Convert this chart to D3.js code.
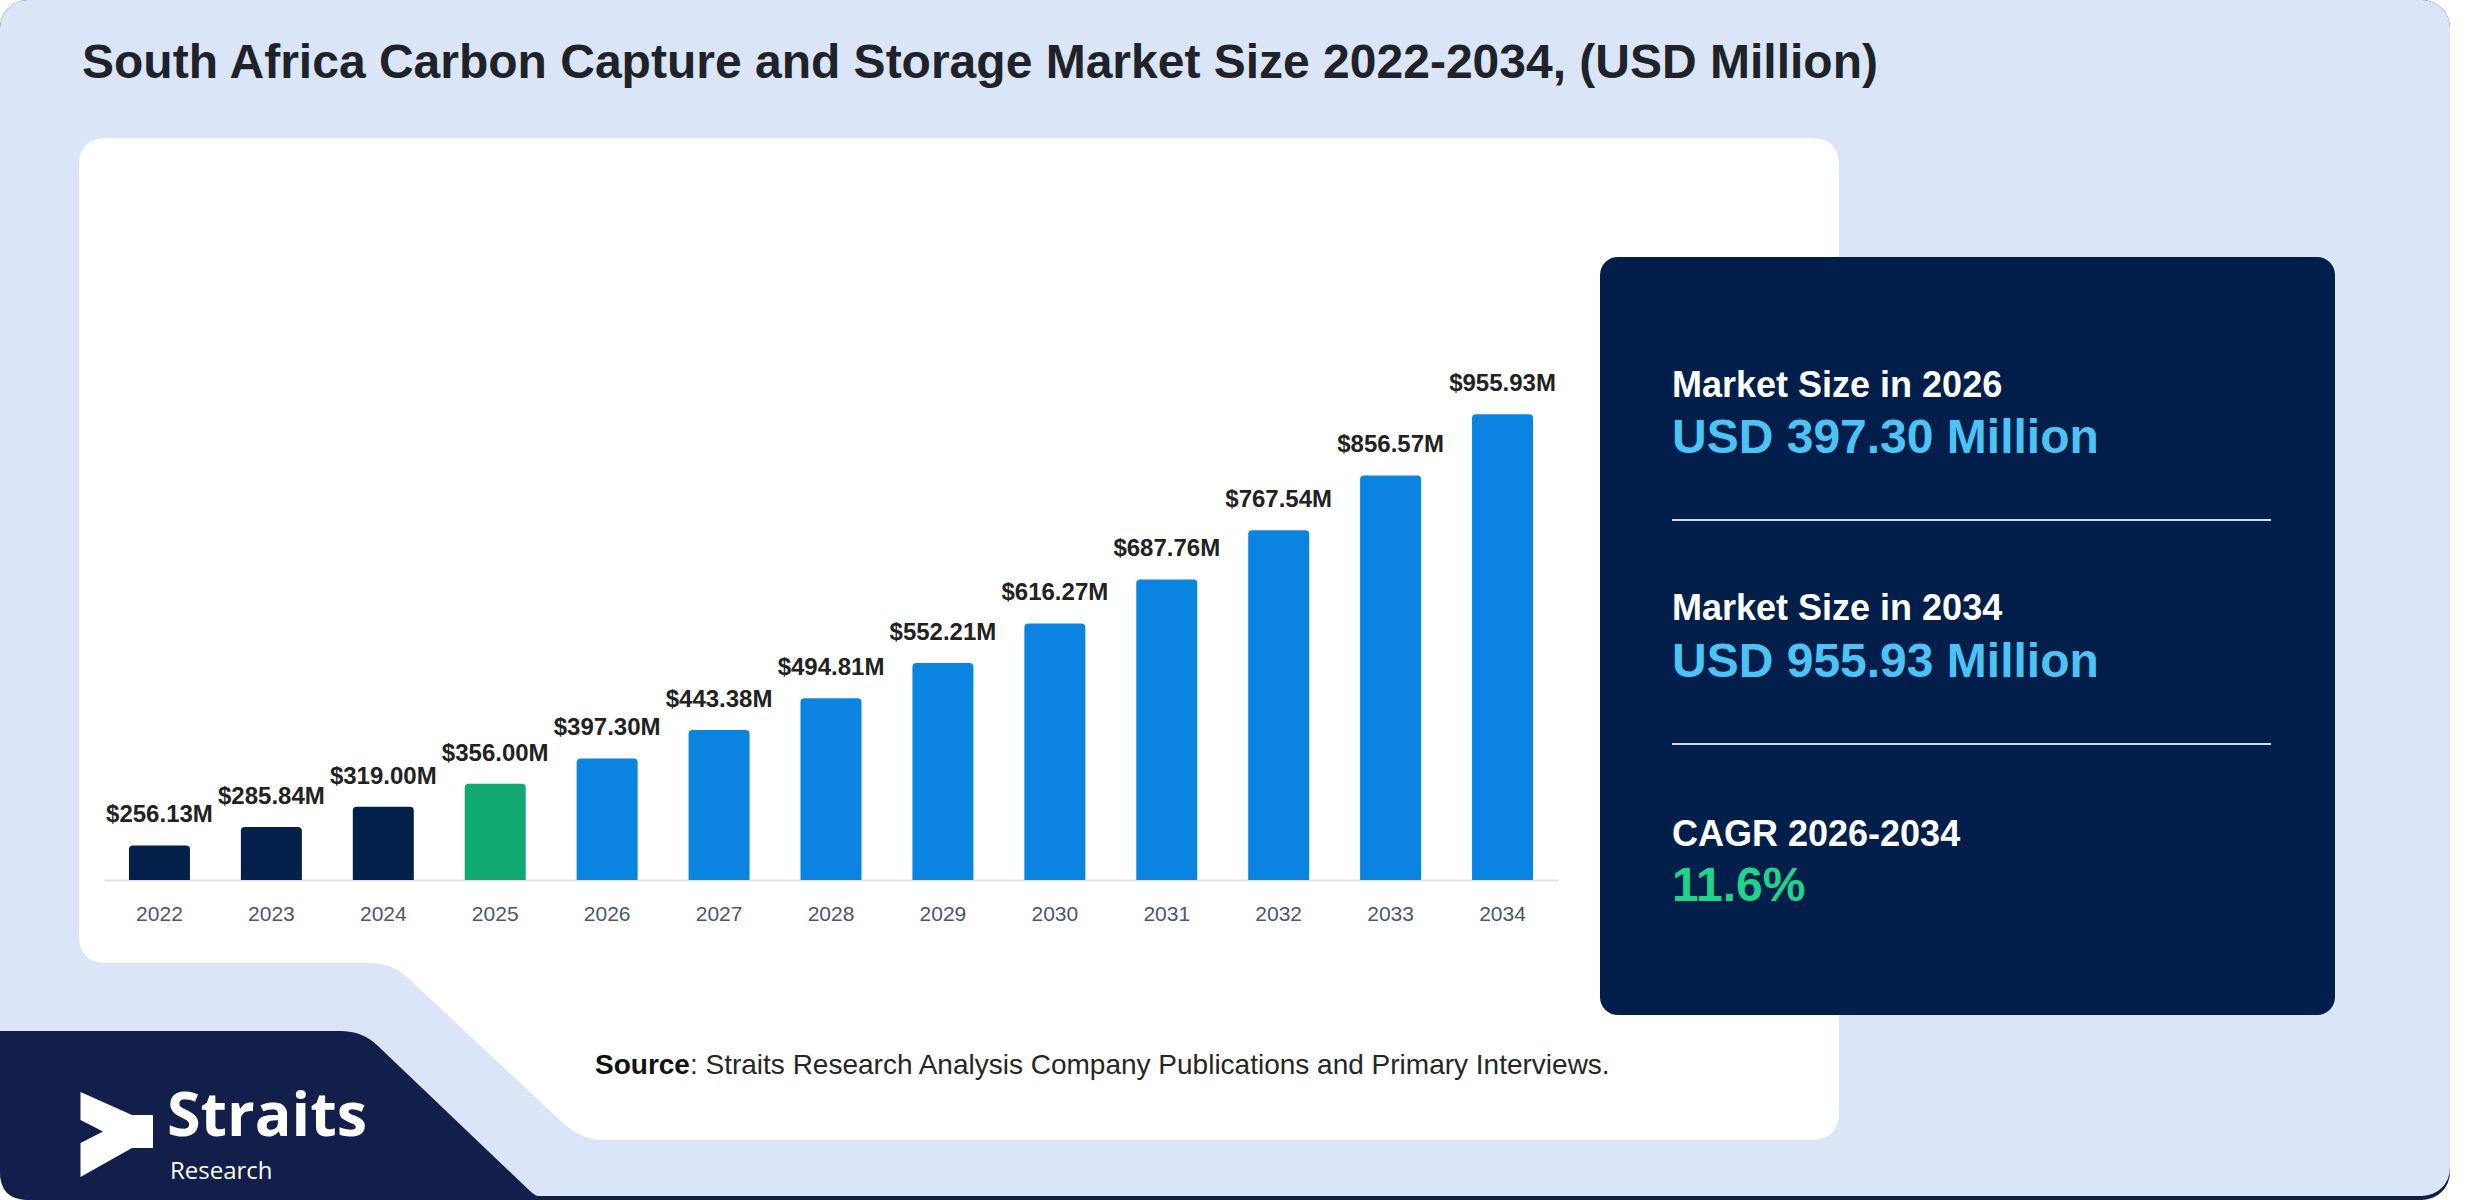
<!DOCTYPE html>
<html>
<head>
<meta charset="utf-8">
<script src="https://cdn.jsdelivr.net/npm/d3@7"></script>
<style>
  html, body { margin: 0; padding: 0; background: #ffffff; }
  svg { display: block; }
  text { font-family: "Liberation Sans", Arial, Helvetica, sans-serif; }
  text.logo { font-family: "Open Sans", "Noto Sans", sans-serif; }
</style>
</head>
<body>
<svg id="chart" width="2480" height="1200"></svg>
<script>
// ---------------- DATA ----------------
const titleText = "South Africa Carbon Capture and Storage Market Size 2022-2034, (USD Million)";
const years = ["2022","2023","2024","2025","2026","2027","2028","2029","2030","2031","2032","2033","2034"];
const values = [256.13, 285.84, 319.00, 356.00, 397.30, 443.38, 494.81, 552.21, 616.27, 687.76, 767.54, 856.57, 955.93];
const baseYear = "2025";
const summaryLabels = ["Market Size in 2026", "Market Size in 2034", "CAGR 2026-2034"];
const summaryValues = ["USD 397.30 Million", "USD 955.93 Million", "11.6%"];
const sourceBold = "Source";
const sourceRest = ": Straits Research Analysis Company Publications and Primary Interviews.";
const logoMain = "Straits";
const logoSub = "Research";

// ---------------- STYLE ----------------
const C = {
  panel: "#dae6f8",
  navyLogo: "#121f4b",
  infoBox: "#011f4a",
  hist: "#02204a",
  base: "#12a871",
  fore: "#0b84e1",
  label: "#222222",
  tick: "#4a5670",
  title: "#1f2329",
  infoVal: "#4dc3f5",
  cagr: "#20d38a",
  divider: "#d5dce8"
};

const svg = d3.select("#chart");

// Outer panel with navy bottom edge
svg.append("rect").attr("x", 0).attr("y", 0).attr("width", 2450).attr("height", 1200)
  .attr("rx", 28).attr("fill", C.navyLogo);
svg.append("rect").attr("x", 0).attr("y", 0).attr("width", 2450).attr("height", 1196)
  .attr("rx", 28).attr("fill", C.panel);

// Navy logo block (bottom-left)
const navy = d3.path();
navy.moveTo(0, 1031);
navy.lineTo(340, 1031);
navy.quadraticCurveTo(363, 1031, 378, 1046);
navy.lineTo(530, 1191);
navy.quadraticCurveTo(539, 1200, 560, 1200);
navy.lineTo(28, 1200);
navy.quadraticCurveTo(0, 1200, 0, 1172);
navy.closePath();
svg.append("path").attr("d", navy.toString()).attr("fill", C.navyLogo);

// White chart card with notch at bottom-left
const card = d3.path();
const L = 79, T = 138, R = 1839, B = 1140, r = 28;
card.moveTo(L + r, T);
card.lineTo(R - r, T);
card.quadraticCurveTo(R, T, R, T + r);
card.lineTo(R, B - r);
card.quadraticCurveTo(R, B, R - r, B);
card.lineTo(605, B);
card.quadraticCurveTo(580, B, 562, 1122);
card.lineTo(408, 978);
card.quadraticCurveTo(392, 963, 370, 963);
card.lineTo(L + r, 963);
card.quadraticCurveTo(L, 963, L, 963 - r);
card.lineTo(L, T + r);
card.quadraticCurveTo(L, T, L + r, T);
card.closePath();
svg.append("path").attr("d", card.toString()).attr("fill", "#ffffff");

// Title
svg.append("text").attr("x", 82).attr("y", 78)
  .attr("font-size", 48).attr("font-weight", 700).attr("fill", C.title)
  .text(titleText);

// ---------------- CHART ----------------
const baseline = 880;
const x = d3.scaleBand().domain(years).range([104, 1558]).paddingInner(0.455).paddingOuter(0.223);
const y = d3.scaleLinear().domain([200, 1000]).range([baseline, 387]);

const axis = d3.axisBottom(x).tickSize(0).tickPadding(26);
const gAxis = svg.append("g").attr("transform", `translate(0,${baseline})`).call(axis);
gAxis.select(".domain").attr("stroke", "#e2e4e8").attr("stroke-width", 2);
gAxis.selectAll(".tick text")
  .attr("font-size", 21).attr("fill", C.tick)
  .attr("font-family", "'Liberation Sans', Arial, sans-serif");

function barPath(x0, y0, w, h, rr) {
  const p = d3.path();
  p.moveTo(x0, y0 + h);
  p.lineTo(x0, y0 + rr);
  p.quadraticCurveTo(x0, y0, x0 + rr, y0);
  p.lineTo(x0 + w - rr, y0);
  p.quadraticCurveTo(x0 + w, y0, x0 + w, y0 + rr);
  p.lineTo(x0 + w, y0 + h);
  p.closePath();
  return p.toString();
}

const data = years.map((yr, i) => ({ year: yr, value: values[i] }));
function barColor(d) {
  if (d.year === baseYear) return C.base;
  return (+d.year < +baseYear) ? C.hist : C.fore;
}

svg.append("g").selectAll("path").data(data).join("path")
  .attr("d", d => barPath(x(d.year), y(d.value), x.bandwidth(), baseline - y(d.value), 4))
  .attr("fill", barColor);

svg.append("g").selectAll("text").data(data).join("text")
  .attr("x", d => x(d.year) + x.bandwidth() / 2)
  .attr("y", d => y(d.value) - 23)
  .attr("text-anchor", "middle")
  .attr("font-size", 24).attr("font-weight", 700).attr("fill", C.label)
  .text(d => "$" + d.value.toFixed(2) + "M");

// ---------------- INFO BOX ----------------
svg.append("rect").attr("x", 1600).attr("y", 257).attr("width", 735).attr("height", 758)
  .attr("rx", 18).attr("fill", C.infoBox);

const labelYs = [397, 620, 846];
const valueYs = [453, 677, 901];
summaryLabels.forEach((t, i) => {
  svg.append("text").attr("x", 1672).attr("y", labelYs[i])
    .attr("font-size", 36).attr("font-weight", 700).attr("fill", "#ffffff").text(t);
  svg.append("text").attr("x", 1672).attr("y", valueYs[i])
    .attr("font-size", 48).attr("font-weight", 700)
    .attr("fill", i === 2 ? C.cagr : C.infoVal).text(summaryValues[i]);
});
[520, 744].forEach(yy => {
  svg.append("line").attr("x1", 1672).attr("x2", 2271).attr("y1", yy).attr("y2", yy)
    .attr("stroke", C.divider).attr("stroke-width", 2);
});

// ---------------- SOURCE ----------------
const src = svg.append("text").attr("x", 595).attr("y", 1074).attr("font-size", 28).attr("fill", "#262626");
src.append("tspan").attr("font-weight", 700).attr("fill", "#111111").text(sourceBold);
src.append("tspan").text(sourceRest);

// ---------------- LOGO ----------------
const icon = d3.path();
icon.moveTo(80.5, 1092);
icon.lineTo(132, 1115);
icon.lineTo(153, 1115);
icon.lineTo(153, 1148);
icon.lineTo(132, 1148);
icon.lineTo(80.5, 1177);
icon.lineTo(80.5, 1143);
icon.lineTo(103, 1131.5);
icon.lineTo(80.5, 1120);
icon.closePath();
svg.append("path").attr("d", icon.toString()).attr("fill", "#ffffff");

svg.append("text").attr("class", "logo").attr("x", 167).attr("y", 1136)
  .attr("font-size", 61).attr("font-weight", 700).attr("fill", "#ffffff").text(logoMain);
svg.append("text").attr("class", "logo").attr("x", 170).attr("y", 1179)
  .attr("font-size", 24).attr("font-weight", 400).attr("fill", "#ffffff").text(logoSub);
</script>
</body>
</html>
